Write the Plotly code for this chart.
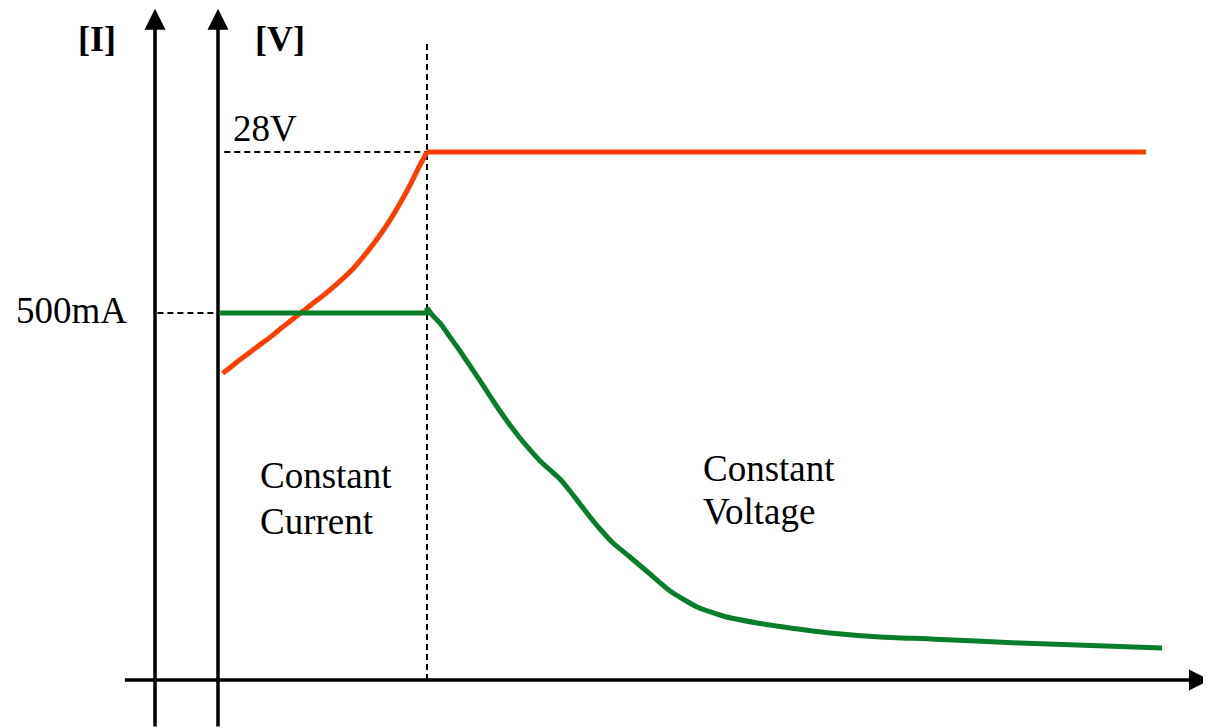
import plotly.graph_objects as go

# ---- data (time in arbitrary units, switch CC->CV at t=1) ----
V_CV = 28.0        # constant-voltage level [V]
I_CC = 500.0       # constant-current level [mA]
T_SWITCH = 1.0

# voltage rise during constant-current phase
v_curve_t = [0.022, 0.073, 0.121, 0.185, 0.249, 0.312, 0.377, 0.440, 0.504, 0.568,
             0.632, 0.679, 0.727, 0.775, 0.823, 0.871, 0.919, 0.958, 1.0]
v_curve_v = [16.26, 16.71, 17.11, 17.65, 18.17, 18.74, 19.30, 19.85, 20.40, 21.00,
             21.65, 22.23, 22.89, 23.60, 24.39, 25.28, 26.25, 27.13, 28.0]
# voltage flat during constant-voltage phase
v_flat_t = [1.0, 4.44]
v_flat_v = [28.0, 28.0]

# current flat during constant-current phase
i_flat_t = [0.01, 1.0, 1.0]
i_flat_i = [500, 500, 507]
# current decay during constant-voltage phase
i_curve_t = [1.0, 1.029, 1.062, 1.110, 1.158, 1.206, 1.254, 1.301, 1.349, 1.397,
             1.445, 1.493, 1.541, 1.589, 1.636, 1.684, 1.732, 1.780, 1.828, 1.890,
             1.971, 2.067, 2.163, 2.292, 2.416, 2.579, 2.737, 2.928,
             3.167, 3.407, 3.837, 4.517]
i_curve_i = [507, 495.9, 486.4, 467.3, 448.2, 427.8, 407.4, 386.9, 366.5, 347.4,
             329.7, 313.4, 298.4, 286.1, 273.8, 257.5, 239.8, 222.1, 205.7, 186.6,
             167.6, 144.4, 121.3, 99.5, 87.2, 77.7, 70.8, 64.0,
             58.6, 55.9, 50.4, 43.6]

RED = "#FF3D00"
GREEN = "#0A7D2B"

# axis ranges chosen so both y axes share the same zero
X_RANGE = [-1.00478, 4.75120]
V_RANGE = [-2.5455, 35.637]
I_RANGE = [-65.4, 915.5]

fig = go.Figure()

# dashed guide lines
dash = dict(color="black", width=2, dash="6px,4px")
fig.add_trace(go.Scatter(x=[0.03, T_SWITCH], y=[V_CV, V_CV], mode="lines", line=dash, yaxis="y"))
fig.add_trace(go.Scatter(x=[-0.29, 0.0], y=[I_CC, I_CC], mode="lines", line=dash, yaxis="y2"))
fig.add_trace(go.Scatter(x=[T_SWITCH, T_SWITCH], y=[0, 33.94], mode="lines", line=dash, yaxis="y"))

LW = 5
# voltage (red)
fig.add_trace(go.Scatter(x=v_curve_t, y=v_curve_v, mode="lines",
                         line=dict(color=RED, width=LW, shape="spline", smoothing=0.4), yaxis="y"))
fig.add_trace(go.Scatter(x=v_flat_t, y=v_flat_v, mode="lines",
                         line=dict(color=RED, width=LW), yaxis="y"))
# current (green)
fig.add_trace(go.Scatter(x=i_flat_t, y=i_flat_i, mode="lines",
                         line=dict(color=GREEN, width=LW), yaxis="y2"))
fig.add_trace(go.Scatter(x=i_curve_t, y=i_curve_i, mode="lines",
                         line=dict(color=GREEN, width=LW, shape="spline", smoothing=0.5), yaxis="y2"))

# axes with arrows
X_I_AXIS = -0.3014
ann = []
def arrow(xh, yh, xt, yt):
    return dict(x=xh, y=yh, ax=xt, ay=yt, xref="x", yref="y", axref="x", ayref="y",
                text="", showarrow=True, arrowhead=2, arrowsize=1.2, arrowwidth=3.5,
                arrowcolor="black", standoff=0, startstandoff=0)
ann.append(arrow(X_I_AXIS, 35.6, X_I_AXIS, V_RANGE[0]))
ann.append(arrow(0.0, 35.6, 0.0, V_RANGE[0]))
ann.append(arrow(4.746, 0.0, -0.4524, 0.0))

serif = "Liberation Serif, Times New Roman, serif"
def label(txt, x, y, xanchor="left", size=37, bold=False):
    if bold:
        txt = "<b>" + txt + "</b>"
    return dict(x=x, y=y, xref="x", yref="y", text=txt, showarrow=False,
                xanchor=xanchor, yanchor="middle",
                font=dict(family=serif, size=size, color="black"))
ann.append(label("[I]", -0.5766, 33.99, xanchor="center", size=36, bold=True))
ann.append(label("[V]", 0.2967, 33.99, xanchor="center", size=36, bold=True))
ann.append(label("28V", 0.062, 29.27))
ann.append(label("500mA", -0.703, 19.57, xanchor="center"))
ann.append(label("Constant", 0.191, 10.82))
ann.append(label("Current", 0.191, 8.43))
ann.append(label("Constant", 2.311, 11.24))
ann.append(label("Voltage", 2.311, 8.91))

fig.update_layout(
    width=1203, height=720,
    margin=dict(l=0, r=0, t=0, b=0),
    paper_bgcolor="white", plot_bgcolor="white",
    showlegend=False,
    xaxis=dict(range=X_RANGE, visible=False, fixedrange=True),
    yaxis=dict(range=V_RANGE, visible=False, fixedrange=True),
    yaxis2=dict(range=I_RANGE, visible=False, overlaying="y", fixedrange=True),
    annotations=ann,
)

fig.write_html("out.html")
